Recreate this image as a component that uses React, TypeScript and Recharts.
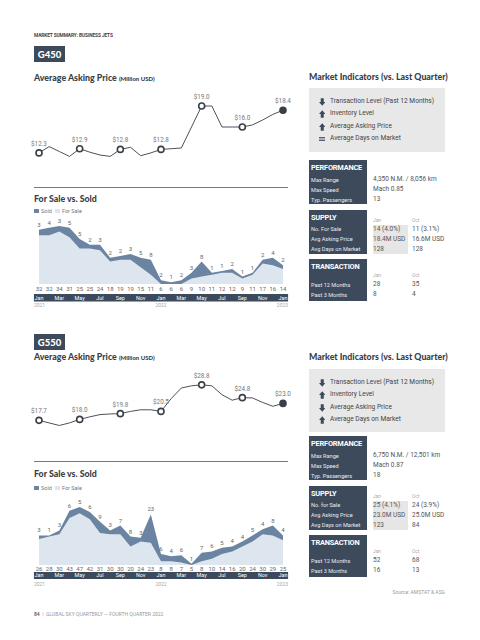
import React from 'react';
import { LineChart, Line, AreaChart, Area, XAxis, YAxis } from 'recharts';

// shared x categories: Jan 2021 .. Jan 2023, monthly
const monthTicks = ['Jan', '', 'Mar', '', 'May', '', 'Jul', '', 'Sep', '', 'Nov', '', 'Jan', '', 'Mar', '', 'May', '', 'Jul', '', 'Sep', '', 'Nov', '', 'Jan'];
const yearTicks = ['2021', '', '', '', '', '', '', '', '', '', '', '', '2022', '', '', '', '', '', '', '', '', '', '', '', '2023'];
const priceMarks = [0, 4, 8, 12, 16, 20, 24];

// G450
const g450Price = [12.3, 13.2, 12.5, 11.8, 12.9, 12.4, 12.0, 11.8, 12.8, 13.1, 11.9, 12.3, 12.8, 12.9, 13.0, 16.0, 19.0, 19.0, 16.0, 16.0, 16.0, 16.3, 17.0, 17.8, 18.4];
const g450ForSale = [32, 32, 34, 31, 25, 25, 24, 18, 19, 19, 15, 11, 6, 6, 6, 9, 10, 11, 12, 12, 9, 11, 17, 16, 14];
const g450Sold = [3, 4, 3, 5, 5, 2, 3, 2, 2, 3, 5, 8, 2, 1, 2, 3, 8, 1, 1, 2, 1, 1, 2, 4, 2];
const g450Indicators = [['down', 'Transaction Level (Past 12 Months)'], ['up', 'Inventory Level'], ['up', 'Average Asking Price'], ['eq', 'Average Days on Market']];
const g450Perf = [['Max Range', '4,350 N.M. / 8,056 km'], ['Max Speed', 'Mach 0.85'], ['Typ. Passengers', '13']];
const g450Supply = [['No. For Sale', '14 (4.0%)', '11 (3.1%)'], ['Avg Asking Price', '18.4M USD', '16.6M USD'], ['Avg Days on Market', '128', '128']];
const g450Trans = [['Past 12 Months', '28', '35'], ['Past 3 Months', '8', '4']];

// G550
const g550Price = [17.7, 16.9, 16.1, 16.9, 18.0, 18.8, 19.5, 19.7, 19.8, 20.5, 21.0, 21.0, 20.5, 24.5, 27.8, 28.5, 28.8, 28.5, 25.7, 24.0, 24.8, 24.7, 23.3, 22.1, 23.0];
const g550ForSale = [26, 28, 30, 43, 47, 42, 31, 30, 30, 20, 24, 23, 8, 8, 7, 5, 8, 10, 14, 16, 20, 24, 30, 29, 25];
const g550Sold = [3, 1, 3, 6, 5, 6, 9, 3, 7, 8, 3, 23, 6, 4, 6, 1, 7, 6, 5, 4, 4, 5, 4, 8, 4];
const g550Indicators = [['down', 'Transaction Level (Past 12 Months)'], ['up', 'Inventory Level'], ['down', 'Average Asking Price'], ['up', 'Average Days on Market']];
const g550Perf = [['Max Range', '6,750 N.M. / 12,501 km'], ['Max Speed', 'Mach 0.87'], ['Typ. Passengers', '18']];
const g550Supply = [['No. for Sale', '25 (4.1%)', '24 (3.9%)'], ['Avg Asking Price', '23.0M USD', '25.0M USD'], ['Avg Days on Market', '123', '84']];
const g550Trans = [['Past 12 Months', '52', '68'], ['Past 3 Months', '16', '13']];

const FONT = 'Roboto, "Noto Sans", sans-serif';
const HEAD = 'Lato, "Noto Sans", sans-serif';
const NAVY = '#3d4a5c';
const SOLD = '#6a84a1';
const FORSALE = '#dde5ee';
const CW = 300;
const ML = 39;
const MR = 17;
const PLOT_W = CW - ML - MR;

const Txt = ({ x, y, size, color = '#444', weight = 400, font = FONT, right, ls, children }: any) => (
  <div
    style={{
      position: 'absolute',
      left: x,
      top: y - size * 0.6,
      fontSize: size,
      lineHeight: `${size * 1.2}px`,
      color,
      fontWeight: weight,
      fontFamily: font,
      whiteSpace: 'nowrap',
      letterSpacing: ls,
      transform: right ? 'translateX(-100%)' : undefined,
    }}
  >
    {children}
  </div>
);

const Icon = ({ dir, x, y }: any) => (
  <svg width={6.5} height={8} viewBox="0 0 6 7" style={{ position: 'absolute', left: x, top: y - 4 }}>
    {dir === 'down' && <path d="M1.6 0H4.4V3.4H6L3 7L0 3.4H1.6Z" fill={NAVY} />}
    {dir === 'up' && <path d="M3 0L6 3.6H4.4V7H1.6V3.6H0Z" fill={NAVY} />}
    {dir === 'eq' && (
      <>
        <rect x={0} y={1.8} width={6} height={1.1} fill={NAVY} />
        <rect x={0} y={4.1} width={6} height={1.1} fill={NAVY} />
      </>
    )}
  </svg>
);

function PriceChart({ values, top, height, marginTop, plotH, domain }: any) {
  const data = values.map((v: number, i: number) => ({ i, v }));
  const renderDot = (p: any) => {
    const { cx, cy, index } = p;
    if (!priceMarks.includes(index)) return <g key={`d${index}`} />;
    const last = index === values.length - 1;
    return (
      <g key={`d${index}`}>
        <circle cx={cx} cy={cy} r={3} fill={last ? '#3a3f47' : '#fff'} stroke="#3a3f47" strokeWidth={1.6} />
        <text x={cx} y={cy - 7} textAnchor="middle" fontSize={6.3} fill="#777" fontFamily={FONT}>
          {'$' + values[index].toFixed(1)}
        </text>
      </g>
    );
  };
  return (
    <div style={{ position: 'absolute', left: 0, top }}>
      <LineChart width={CW} height={height} data={data} margin={{ top: marginTop, right: MR, bottom: height - marginTop - plotH, left: ML }}>
        <XAxis dataKey="i" hide />
        <YAxis hide domain={domain} />
        <Line dataKey="v" type="linear" stroke="#4d5158" strokeWidth={1} dot={renderDot} activeDot={false} isAnimationActive={false} />
      </LineChart>
    </div>
  );
}

function StockChart({ forSale, sold, top, plotH, ax }: any) {
  const data = forSale.map((f: number, i: number) => ({ i, forSale: f, total: f + sold[i] }));
  const lo = Math.min(...forSale);
  const hi = Math.max(...data.map((d: any) => d.total));
  const n = forSale.length;
  const step = PLOT_W / (n - 1);

  const renderTick = (props: any) => {
    const { x, y, payload } = props;
    const i = Number(payload.value);
    const anchor = i === 0 ? 'start' : i === n - 1 ? 'end' : 'middle';
    const yx = i === 0 ? x - step / 2 : i === n - 1 ? x + step / 2 : x;
    return (
      <g fontFamily={FONT}>
        {i === 0 && <rect x={x - step / 2} y={y + ax.barTop} width={step * n} height={ax.barH} fill={NAVY} />}
        <text x={x} y={y + ax.num + 2.1} textAnchor="middle" fontSize={6} fill="#666">{forSale[i]}</text>
        {monthTicks[i] && (
          <text x={x} y={y + ax.barTop + ax.barH / 2 + 1.9} textAnchor="middle" fontSize={5.4} fill="#fff">{monthTicks[i]}</text>
        )}
        {yearTicks[i] && (
          <text x={yx} y={y + ax.year + 1.8} textAnchor={anchor} fontSize={5} fill="#aaa">{yearTicks[i]}</text>
        )}
      </g>
    );
  };

  const renderSold = (p: any) => (
    <text key={`s${p.index}`} x={p.cx} y={p.cy - 3} textAnchor="middle" fontSize={6} fill="#666" fontFamily={FONT}>
      {sold[p.index]}
    </text>
  );

  return (
    <div style={{ position: 'absolute', left: 0, top }}>
      <AreaChart width={CW} height={14 + plotH + 30} data={data} margin={{ top: 14, right: MR, bottom: 0, left: ML }}>
        <XAxis dataKey="i" height={30} interval={0} tickLine={false} axisLine={false} tickSize={0} tickMargin={0} tick={renderTick} />
        <YAxis hide domain={[lo, hi]} />
        <Area dataKey="total" type="linear" baseValue="dataMin" fill={SOLD} fillOpacity={1} stroke="none" dot={renderSold} activeDot={false} isAnimationActive={false} />
        <Area dataKey="forSale" type="linear" baseValue="dataMin" fill={FORSALE} fillOpacity={1} stroke="none" activeDot={false} isAnimationActive={false} />
      </AreaChart>
    </div>
  );
}

function DarkBox({ top, height, title }: any) {
  return (
    <>
      <div style={{ position: 'absolute', left: 309, top, width: 58, height, background: NAVY }} />
      <Txt x={311} y={top + 8} size={7.4} weight={700} color="#fff" ls={-0.2}>{title}</Txt>
    </>
  );
}

function Section({ name, price, forSale, sold, indicators, perf, supply, trans, L }: any) {
  return (
    <>
      <div
        style={{
          position: 'absolute', left: 34, top: L.box, width: 31, height: 16, background: NAVY, color: '#fff',
          fontFamily: HEAD, fontWeight: 900, fontSize: 9.5, display: 'flex', alignItems: 'center', justifyContent: 'center',
        }}
      >
        {name}
      </div>
      <Txt x={34} y={L.title} size={8.8} weight={900} font={HEAD} color="#3a3f47">
        Average Asking Price <span style={{ fontSize: 6 }}>(Million USD)</span>
      </Txt>
      <PriceChart values={price} top={L.priceTop} height={L.priceH} marginTop={L.priceMT} plotH={L.pricePlotH} domain={L.priceDomain} />

      <div style={{ position: 'absolute', left: 34, top: L.sep, width: 254, height: 1, background: '#777' }} />
      <Txt x={34} y={L.fsTitle} size={8.8} weight={900} font={HEAD} color="#3a3f47">For Sale vs. Sold</Txt>
      <div style={{ position: 'absolute', left: 34, top: L.legend - 2, width: 5, height: 4, background: SOLD }} />
      <Txt x={41} y={L.legend} size={5.5} color="#777">Sold</Txt>
      <div style={{ position: 'absolute', left: 55, top: L.legend - 2, width: 5, height: 4, background: FORSALE }} />
      <Txt x={62} y={L.legend} size={5.5} color="#777">For Sale</Txt>
      <StockChart forSale={forSale} sold={sold} top={L.areaTop} plotH={58} ax={L.ax} />

      <Txt x={309} y={L.mi} size={8.8} weight={900} font={HEAD} color="#3a3f47">Market Indicators (vs. Last Quarter)</Txt>
      <div style={{ position: 'absolute', left: 309, top: L.miBox, width: 136, height: L.miBoxH, background: '#e8e8e8' }} />
      {indicators.map(([dir, text]: any, k: number) => (
        <React.Fragment key={k}>
          <Icon dir={dir} x={318.5} y={L.miBox + 13.5 + k * 12.6} />
          <Txt x={330} y={L.miBox + 13.5 + k * 12.6} size={6.6} color="#444">{text}</Txt>
        </React.Fragment>
      ))}

      <DarkBox top={L.perf} height={44} title="PERFORMANCE" />
      {perf.map(([a, b]: any, k: number) => (
        <React.Fragment key={k}>
          <Txt x={311} y={L.perf + 20 + k * 10} size={5.6} color="#e8ecf2">{a}</Txt>
          <Txt x={373} y={L.perf + 20 + k * 10} size={6.5} color="#555">{b}</Txt>
        </React.Fragment>
      ))}

      <DarkBox top={L.supply} height={44} title="SUPPLY" />
      <div style={{ position: 'absolute', left: 372.5, top: L.supply + 15, width: 35, height: 29, background: '#e6e6e6' }} />
      <Txt x={373} y={L.supply + 10.5} size={4.8} color="#aaa">Jan</Txt>
      <Txt x={412} y={L.supply + 10.5} size={4.8} color="#aaa">Oct</Txt>
      {supply.map(([a, b, c]: any, k: number) => (
        <React.Fragment key={k}>
          <Txt x={311} y={L.supply + 19.5 + k * 10} size={5.6} color="#e8ecf2">{a}</Txt>
          <Txt x={373} y={L.supply + 19.5 + k * 10} size={6.5} color="#555">{b}</Txt>
          <Txt x={412} y={L.supply + 19.5 + k * 10} size={6.5} color="#555">{c}</Txt>
        </React.Fragment>
      ))}

      <DarkBox top={L.trans} height={42} title="TRANSACTION" />
      <Txt x={373} y={L.trans + 17} size={4.8} color="#aaa">Jan</Txt>
      <Txt x={412} y={L.trans + 17} size={4.8} color="#aaa">Oct</Txt>
      {trans.map(([a, b, c]: any, k: number) => (
        <React.Fragment key={k}>
          <Txt x={311} y={L.trans + 26 + k * 10} size={5.6} color="#e8ecf2">{a}</Txt>
          <Txt x={373} y={L.trans + 26 + k * 10} size={6.5} color="#555">{b}</Txt>
          <Txt x={412} y={L.trans + 26 + k * 10} size={6.5} color="#555">{c}</Txt>
        </React.Fragment>
      ))}
    </>
  );
}

const L450 = {
  box: 46, title: 78, priceTop: 80, priceH: 90, priceMT: 19, pricePlotH: 63, priceDomain: [11, 20],
  sep: 187, fsTitle: 199, legend: 211, areaTop: 212, ax: { num: 5, barTop: 10, barH: 7.5, year: 21.5 },
  mi: 77, miBox: 88, miBoxH: 64, perf: 160, supply: 210, trans: 259,
};
const L550 = {
  box: 334, title: 357, priceTop: 360, priceH: 80, priceMT: 21, pricePlotH: 48, priceDomain: [15, 30],
  sep: 461, fsTitle: 474, legend: 488, areaTop: 493, ax: { num: 3.5, barTop: 7, barH: 7, year: 19 },
  mi: 357, miBox: 369, miBoxH: 63, perf: 436, supply: 486, trans: 535,
};

export default function App() {
  return (
    <div style={{ position: 'relative', width: 480, height: 640, background: '#fff', overflow: 'hidden' }}>
      <style>{'body{margin:0}'}</style>
      <Txt x={34} y={36} size={4.8} weight={700} color="#444" ls={-0.1}>MARKET SUMMARY: BUSINESS JETS</Txt>
      <Section name="G450" price={g450Price} forSale={g450ForSale} sold={g450Sold} indicators={g450Indicators} perf={g450Perf} supply={g450Supply} trans={g450Trans} L={L450} />
      <Section name="G550" price={g550Price} forSale={g550ForSale} sold={g550Sold} indicators={g550Indicators} perf={g550Perf} supply={g550Supply} trans={g550Trans} L={L550} />
      <Txt x={445} y={592} size={5} color="#999" right>Source: AMSTAT &amp; ASG</Txt>
      <Txt x={34} y={614} size={5} color="#999">
        <b style={{ color: '#666' }}>84</b>&nbsp; | &nbsp;GLOBAL SKY QUARTERLY — FOURTH QUARTER 2022
      </Txt>
    </div>
  );
}
